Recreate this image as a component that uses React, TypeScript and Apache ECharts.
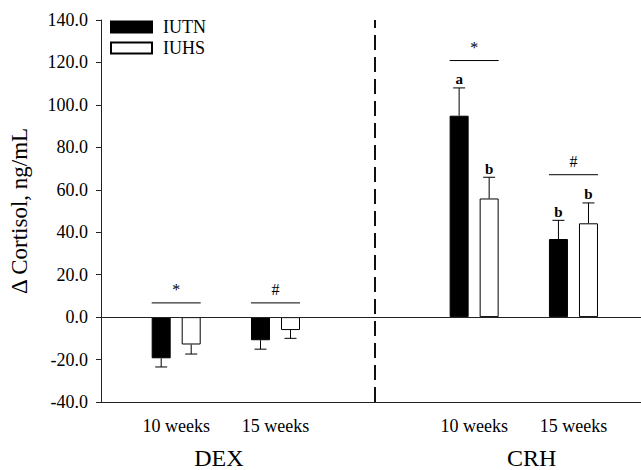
import React, { useEffect, useRef } from "react";
import * as echarts from "echarts";

// Data
const positions = [0, 1, 3, 4];
const xLabels = ["10 weeks", "15 weeks", "10 weeks", "15 weeks"];
const iutn = [-19.4, -10.9, 94.9, 36.8];
const iutnErr = [4.1, 4.2, 13.1, 8.8];
const iuhs = [-12.9, -6.1, 55.9, 44.2];
const iuhsErr = [4.5, 3.9, 10.0, 9.6];
const iutnLetters = ["", "", "a", "b"];
const iuhsLetters = ["", "", "b", "b"];
const sigY = [6.7, 6.7, 120.9, 67.1];
const sigMarks = ["*", "#", "*", "#"];
const groupNames = ["DEX", "CRH"];
const groupLabelPos = [0.43, 3.58];
const separatorPos = 2;
const yTicks = { min: -40, max: 140, interval: 20 };

const FONT = "'Liberation Serif', 'Times New Roman', serif";
const BAR_W = 19;
const BAR_GAP_PCT = 58;
const GAP_PX = (BAR_W * BAR_GAP_PCT) / 100;
const OFFSET = (BAR_W + GAP_PX) / 2;
const X_MIN = -0.757;
const X_MAX = 4.68;

function errorSeries(name: string, values: number[], errs: number[], letters: string[], dx: number) {
  return {
    type: "custom",
    name: name + "-err",
    silent: true,
    z: 5,
    xAxisIndex: 0,
    yAxisIndex: 0,
    data: positions.map((p, i) => [p, values[i], errs[i]]),
    renderItem: (params: any, api: any) => {
      const x = api.value(0);
      const v = api.value(1);
      const e = api.value(2);
      const sign = v >= 0 ? 1 : -1;
      const base = api.coord([x, v]);
      const end = api.coord([x, v + sign * e]);
      const cx = base[0] + dx;
      const children: any[] = [
        {
          type: "line",
          shape: { x1: cx, y1: base[1], x2: cx, y2: end[1] },
          style: { stroke: "#000", lineWidth: 1 },
        },
        {
          type: "line",
          shape: { x1: cx - 6, y1: end[1], x2: cx + 6, y2: end[1] },
          style: { stroke: "#000", lineWidth: 1 },
        },
      ];
      const letter = letters[params.dataIndex];
      if (letter) {
        children.push({
          type: "text",
          style: {
            text: letter,
            x: cx,
            y: end[1] - 1,
            align: "center",
            verticalAlign: "bottom",
            font: `bold 15px ${FONT}`,
            fill: "#000",
          },
        });
      }
      return { type: "group", children };
    },
  };
}

export default function App() {
  const ref = useRef<HTMLDivElement>(null);
  useEffect(() => {
    if (!ref.current) return;
    document.body.style.margin = "0";
    const chart = echarts.init(ref.current, undefined, { renderer: "svg" });
    const option: any = {
      animation: false,
      backgroundColor: "#fff",
      textStyle: { fontFamily: FONT, color: "#000" },
      grid: { left: 100, right: 0, top: 20, bottom: 67, containLabel: false },
      legend: {
        orient: "vertical",
        left: 105,
        top: 13,
        itemWidth: 41,
        itemHeight: 11,
        itemGap: 3,
        icon: "rect",
        data: ["IUTN", "IUHS"],
        textStyle: { fontFamily: FONT, fontSize: 18, color: "#000", padding: [0, 0, 0, 6] },
      },
      xAxis: [
        {
          type: "value",
          min: X_MIN,
          max: X_MAX,
          splitLine: { show: false },
          axisTick: { show: false },
          axisLine: { show: true, onZero: false, lineStyle: { color: "#222", width: 1 } },
          axisLabel: {
            customValues: positions,
            formatter: (v: number) => {
              const i = positions.indexOf(v);
              return i >= 0 ? xLabels[i] : "";
            },
            fontFamily: FONT,
            fontSize: 18,
            color: "#000",
            margin: 15,
          },
        },
        {
          type: "value",
          min: X_MIN,
          max: X_MAX,
          position: "bottom",
          offset: 30,
          splitLine: { show: false },
          axisTick: { show: false },
          axisLine: { show: false, onZero: false },
          axisLabel: {
            customValues: groupLabelPos,
            formatter: (v: number) => {
              const i = groupLabelPos.indexOf(v);
              return i >= 0 ? groupNames[i] : "";
            },
            fontFamily: FONT,
            fontSize: 24,
            color: "#000",
            margin: 14,
          },
        },
      ],
      yAxis: {
        type: "value",
        min: yTicks.min,
        max: yTicks.max,
        interval: yTicks.interval,
        name: "Δ Cortisol, ng/mL",
        nameLocation: "middle",
        nameGap: 70,
        nameTextStyle: { fontFamily: FONT, fontSize: 23, color: "#000" },
        splitLine: { show: false },
        axisLine: { show: true, onZero: false, lineStyle: { color: "#222", width: 1 } },
        axisTick: { show: true, inside: false, length: 5, lineStyle: { color: "#222" } },
        axisLabel: {
          formatter: (v: number) => v.toFixed(1),
          fontFamily: FONT,
          fontSize: 18,
          color: "#000",
          margin: 13,
        },
      },
      series: [
        {
          type: "bar",
          name: "IUTN",
          xAxisIndex: 0,
          barWidth: BAR_W,
          barGap: BAR_GAP_PCT + "%",
          itemStyle: { color: "#000", borderColor: "#000", borderWidth: 1 },
          data: positions.map((p, i) => [p, iutn[i]]),
        },
        {
          type: "bar",
          name: "IUHS",
          xAxisIndex: 0,
          barWidth: BAR_W,
          barGap: BAR_GAP_PCT + "%",
          itemStyle: { color: "#fff", borderColor: "#000", borderWidth: 1 },
          data: positions.map((p, i) => [p, iuhs[i]]),
        },
        errorSeries("IUTN", iutn, iutnErr, iutnLetters, -OFFSET),
        errorSeries("IUHS", iuhs, iuhsErr, iuhsLetters, OFFSET),
        {
          type: "custom",
          name: "sig",
          silent: true,
          z: 5,
          data: positions.map((p, i) => [p, sigY[i]]),
          markLine: {
            silent: true,
            symbol: "none",
            label: { show: false },
            data: [
              { yAxis: 0, lineStyle: { color: "#222", width: 1, type: "solid" } },
              { xAxis: separatorPos, lineStyle: { color: "#111", width: 2, type: [15, 7] } },
            ],
          },
          renderItem: (params: any, api: any) => {
            const pt = api.coord([api.value(0), api.value(1)]);
            const half = OFFSET + BAR_W / 2;
            return {
              type: "group",
              children: [
                {
                  type: "line",
                  shape: { x1: pt[0] - half, y1: pt[1], x2: pt[0] + half, y2: pt[1] },
                  style: { stroke: "#000", lineWidth: 1 },
                },
                {
                  type: "text",
                  style: {
                    text: sigMarks[params.dataIndex],
                    x: pt[0],
                    y: pt[1] - 5,
                    align: "center",
                    verticalAlign: "bottom",
                    font: `16px ${FONT}`,
                    fill: "#000",
                  },
                },
              ],
            };
          },
        },
      ],
    };
    chart.setOption(option);
    return () => chart.dispose();
  }, []);
  return <div ref={ref} style={{ width: 641, height: 470 }} />;
}
